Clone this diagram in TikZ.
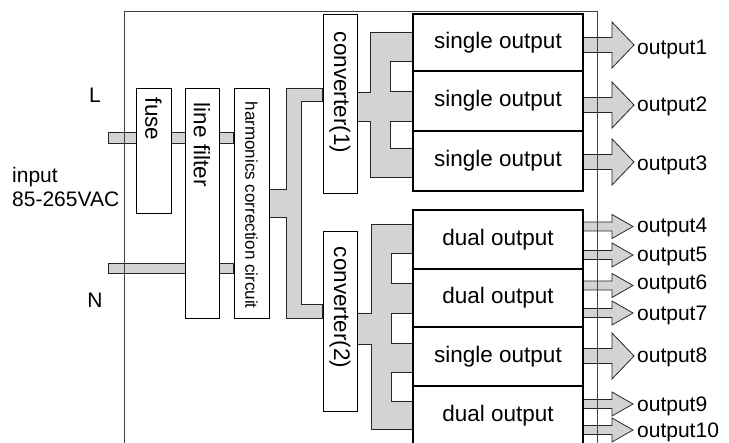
\documentclass[tikz,border=0pt]{standalone}
\usepackage{fontspec}
\setmainfont{Liberation Sans}
\usetikzlibrary{backgrounds}
\definecolor{busgray}{RGB}{210,211,213}
\begin{document}
\begin{tikzpicture}[x=1pt, y=-1pt,
        bus/.style={fill=busgray, draw=black!85, line width=0.8pt},
        unit/.style={draw, fill=white, line width=0.8pt, inner sep=0pt},
        outbox/.style={draw, fill=white, line width=2pt, minimum width=170, inner sep=0pt, font=\fontsize{22.5}{24}\selectfont},
        vtext/.style={rotate=-90, anchor=west, inner sep=0pt, font=\fontsize{22.5}{24}\selectfont},
        lbl/.style={inner sep=0pt, font=\fontsize{21}{24}\selectfont},
        frame/.style={draw=black!75, line width=0.9pt}]
        \useasboundingbox (0,0) rectangle (729,443);

        \node[unit, minimum width=35, minimum height=125] (fuse) at (153.5,150.5) {};
        \node[unit, minimum width=34, minimum height=230] (lfilter) at (202,203) {};
        \node[unit, minimum width=35, minimum height=230] (harm) at (251.5,203) {};
        \node[unit, minimum width=34, minimum height=179] (conv1) at (340,103.5) {};
        \node[unit, minimum width=34, minimum height=180] (conv2) at (340,321) {};

        \node[vtext] (fusetxt) at ([yshift=-10pt]fuse.north) {fuse};
        \node[vtext] (lfiltertxt) at ([yshift=-15pt]lfilter.north) {line filter};
        \node[vtext, font=\fontsize{17}{20}\selectfont] (harmtxt) at ([yshift=-14pt]harm.north) {harmonics correction circuit};
        \node[vtext] (conv1txt) at ([yshift=-18pt]conv1.north) {converter(1)};
        \node[vtext] (conv2txt) at ([yshift=-16pt]conv2.north) {converter(2)};

        \node[outbox, minimum height=57] (s1) at (498,42.5) {single output};
        \node[outbox, minimum height=60] (s2) at (498,101) {single output};
        \node[outbox, minimum height=60] (s3) at (498,161) {single output};
        \node[outbox, minimum height=59] (d1) at (498,239.5) {dual output};
        \node[outbox, minimum height=58] (d2) at (498,298) {dual output};
        \node[outbox, minimum height=59] (d3) at (498,356.5) {single output};
        \node[outbox, minimum height=59] (d4) at (498,415.5) {dual output};

        \coordinate (lin) at (108,132);
        \coordinate (nin) at (108,263);

        \begin{scope}[on background layer]
            \draw[bus] (lin) rectangle (harm.west |- 0,143);
            \draw[bus] (nin) rectangle (harm.west |- 0,273);

            \draw[bus] (harm.east |- 0,189) -- (286,189) -- (286,88) -- (conv1.west |- 0,88) -- (conv1.west |- 0,101) -- (301,101)
                -- (301,304) -- (conv2.west |- 0,304) -- (conv2.west |- 0,318) -- (286,318) -- (286,217) -- (harm.east |- 0,217) -- cycle;

            \draw[bus] (conv1.east |- 0,92) -- (370,92) -- (370,32) -- (s1.west |- 0,32) -- (s1.west |- 0,61) -- (390,61) -- (390,91)
                -- (s2.west |- 0,91) -- (s2.west |- 0,121) -- (390,121) -- (390,148) -- (s3.west |- 0,148) -- (s3.west |- 0,177)
                -- (370,177) -- (370,121) -- (conv1.east |- 0,121) -- cycle;

            \draw[bus] (conv2.east |- 0,313) -- (371,313) -- (371,224) -- (d1.west |- 0,224) -- (d1.west |- 0,253) -- (391,253) -- (391,283)
                -- (d2.west |- 0,283) -- (d2.west |- 0,313) -- (391,313) -- (391,343) -- (d3.west |- 0,343) -- (d3.west |- 0,372)
                -- (391,372) -- (391,401) -- (d4.west |- 0,401) -- (d4.west |- 0,429) -- (371,429) -- (371,344) -- (conv2.east |- 0,344) -- cycle;

            \foreach \c in {45,105,162,356}
                \draw[bus] (583,{\c-7.5}) -- (612,{\c-7.5}) -- (612,{\c-23}) -- (634,\c) -- (612,{\c+23}) -- (612,{\c+7.5}) -- (583,{\c+7.5}) -- cycle;
            \foreach \c in {226.5,255,285.5,313,404,430}
                \draw[bus] (583,{\c-4.5}) -- (612,{\c-4.5}) -- (612,{\c-12}) -- (633,\c) -- (612,{\c+12}) -- (612,{\c+4.5}) -- (583,{\c+4.5}) -- cycle;
        \end{scope}

        \draw[frame] (124,443) -- (124,11) -- (597,11) -- (597,443);

        \foreach \n/\b in {1/55,2/112,3/171,4/233,5/262,6/290,7/321,8/363,9/412,10/438}
            \node[lbl, anchor=base west] (out\n) at (637,\b) {output\n};

        \node[lbl, anchor=base] (lline) at (95,103) {L};
        \node[lbl, anchor=base] (nline) at (95,308) {N};
        \node[lbl, anchor=base west, align=left] (input) at (12,207) {input\\85-265VAC};

    \end{tikzpicture}
\end{document}
